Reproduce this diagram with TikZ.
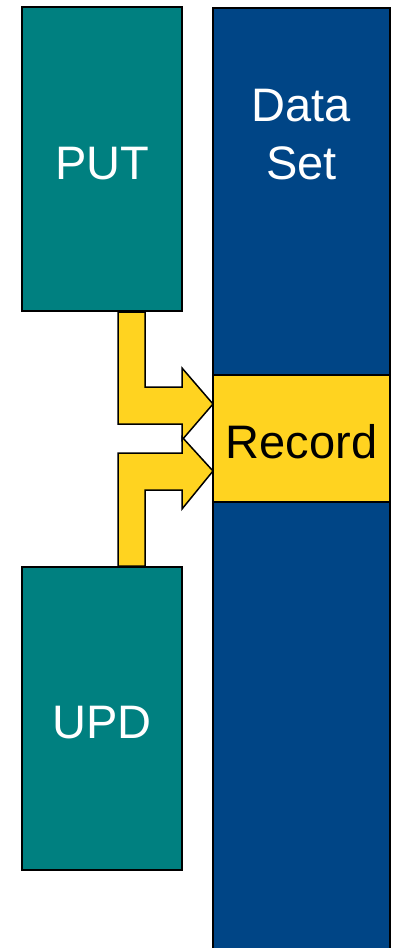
\documentclass[tikz,border=0pt]{standalone}
\usepackage{fontspec}
\setmainfont{Liberation Sans}
\usetikzlibrary{calc}
\definecolor{putteal}{HTML}{008080}
\definecolor{setblue}{HTML}{004586}
\definecolor{recyellow}{HTML}{FFD320}

\tikzset{
  block/.style={rectangle, draw=black, line width=2pt, inner sep=0pt,
    font=\fontsize{47}{58}\selectfont, text height=40pt, text depth=0pt},
  feed/.style={draw=black, fill=recyellow, line width=1.5pt, line join=miter},
  setlabel/.style={anchor=center, yshift=-128pt, text=white, align=center,
    font=\fontsize{47}{58}\selectfont}
}

\begin{document}
\begin{tikzpicture}[x=1pt, y=-1pt]
    \useasboundingbox (0,0) rectangle (393,948);
    \clip (0,0) rectangle (393,948);

    % Data set column (runs off the bottom)
    \node[block, fill=setblue, minimum width=177pt, minimum height=960pt, anchor=north,
          label={[setlabel]north:{Data\\Set}}] (dataset) at (301.5,7) {};
    \node[block, fill=recyellow, minimum width=177pt, minimum height=127pt] (record) at (301.5,438.5) {Record};

    % Programs
    \node[block, fill=putteal, text=white, minimum width=160pt, minimum height=304pt] (put) at (102,159) {PUT};
    \node[block, fill=putteal, text=white, minimum width=160pt, minimum height=303pt] (upd) at (102,718.5) {UPD};

    % Block arrows into the record
    \draw[feed] ($(put.south)+(16,0)$) -- ++(0,112) -- ++(64,0) -- ++(0,16) -- ++(31,-36)
        -- ++(-31,-36) -- ++(0,19) -- ++(-37,0) -- ($(put.south)+(43,0)$) -- cycle;
    \draw[feed] ($(upd.north)+(16,0)$) -- ++(0,-113) -- ++(64,0) -- ++(0,-16) -- ++(31,34)
        -- ++(-31,38) -- ++(0,-19) -- ++(-37,0) -- ($(upd.north)+(43,0)$) -- cycle;
\end{tikzpicture}
\end{document}
